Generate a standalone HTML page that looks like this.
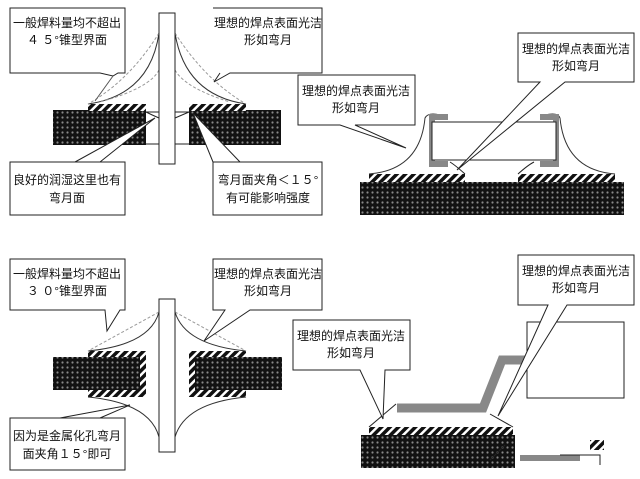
<!DOCTYPE html>
<html><head><meta charset="utf-8"><style>
html,body{margin:0;padding:0;background:#fff;}
svg{display:block}
text{font-family:"Liberation Sans","Noto Sans CJK SC",sans-serif;font-size:12px;fill:#111;text-anchor:middle}
</style></head><body>
<svg width="640" height="479" viewBox="0 0 640 479" xmlns="http://www.w3.org/2000/svg">
<defs>
<pattern id="x" width="5" height="5" patternUnits="userSpaceOnUse">
<rect width="5" height="5" fill="#111"/><circle cx="2.5" cy="2.5" r="1.1" fill="#888"/>
</pattern>
<pattern id="h" width="6" height="6" patternUnits="userSpaceOnUse" patternTransform="rotate(45)">
<rect width="6" height="6" fill="#fff"/><rect width="3.5" height="6" fill="#111"/>
</pattern>
</defs>
<g stroke="#222" stroke-width="1" fill="none">
<!-- TOP LEFT -->
<rect x="53" y="110" width="93" height="35" fill="url(#x)" stroke="none"/>
<rect x="189" y="110" width="92" height="35" fill="url(#x)" stroke="none"/>
<rect x="88" y="104" width="58" height="7" fill="url(#h)" stroke="none"/>
<rect x="189" y="104" width="57" height="7" fill="url(#h)" stroke="none"/>
<line x1="146" y1="112" x2="189" y2="112"/><line x1="146" y1="144" x2="189" y2="144"/>
<path d="M159 33 Q150 95 88 104" stroke="#333"/>
<path d="M159 33 Q130 80 88 104" stroke="#999" stroke-dasharray="3,2"/>
<path d="M175 33 Q185 95 246 104" stroke="#333"/>
<path d="M175 33 Q205 80 246 104" stroke="#999" stroke-dasharray="3,2"/>
<path d="M159 70 Q150 88 100 102" stroke="#999" stroke-dasharray="3,2"/>
<path d="M175 70 Q185 88 230 102" stroke="#999" stroke-dasharray="3,2"/>
<path d="M146 112 Q152 115 159 118"/><path d="M189 112 Q182 115 175 118"/>
<rect x="159" y="13" width="16" height="151" fill="#fff"/>
<path d="M10 8H125V73H118L113 76L100 73H10Z" fill="#fff"/>
<path d="M113 76L95 101" stroke="#555"/>
<path d="M213 8H322V73H230L214 82L220 73" fill="#fff"/>
<path d="M10 162H125V215H10Z M75 162L155 118L100 162" fill="#fff"/>
<path d="M213 162H322V215H213Z M213 162L193 113L240 162" fill="#fff"/>
<!-- TOP RIGHT -->
<rect x="360" y="182" width="264" height="33" fill="url(#x)" stroke="none"/>
<rect x="369" y="174" width="96" height="8" fill="url(#h)" stroke="none"/>
<rect x="518" y="174" width="97" height="8" fill="url(#h)" stroke="none"/>
<path d="M369 174 Q420 170 425 118 Q428 112 440 115" stroke="#333"/>
<path d="M615 174 Q565 170 560 118 Q558 112 545 115" stroke="#333"/>
<path d="M465 174 Q455 165 450 162"/><path d="M518 174 Q528 165 534 162"/>
<path d="M448 117H432V164H448" stroke="#888" stroke-width="6"/>
<path d="M540 117H556V164H540" stroke="#888" stroke-width="6"/>
<rect x="432" y="122" width="124" height="38" fill="#fff" stroke="#222"/>
<path d="M298 75H415V125H355L406 148L340 125H298Z" fill="#fff"/>
<path d="M518 33H634V82H565L457 170L540 82H518Z" fill="#fff"/>
<!-- BOTTOM LEFT -->
<rect x="88" y="351" width="58" height="46" fill="url(#h)" stroke="none"/>
<rect x="53" y="357" width="87" height="33" fill="url(#x)" stroke="none"/>
<rect x="189" y="351" width="57" height="46" fill="url(#h)" stroke="none"/>
<rect x="195" y="357" width="87" height="33" fill="url(#x)" stroke="none"/>
<path d="M159 312 Q150 345 88 351" stroke="#333"/>
<path d="M175 312 Q185 345 246 351" stroke="#333"/>
<path d="M159 312 L88 351" stroke="#999" stroke-dasharray="3,2"/>
<path d="M175 312 L246 351" stroke="#999" stroke-dasharray="3,2"/>
<path d="M159 437 Q150 403 88 397" stroke="#333"/>
<path d="M175 437 Q185 403 246 397" stroke="#333"/>
<rect x="159" y="299" width="16" height="153" fill="#fff"/>
<path d="M10 259H125V310H120L107 331L105 310H10Z" fill="#fff"/>
<path d="M213 259H322V310H250L204 341L225 310H213Z" fill="#fff"/>
<path d="M10 418H125V470H10Z M60 418L130 405L100 418" fill="#fff"/>
<!-- BOTTOM RIGHT -->
<rect x="361" y="435" width="154" height="33" fill="url(#x)" stroke="none"/>
<rect x="369" y="427" width="144" height="8" fill="url(#h)" stroke="none"/>
<path d="M369 427L396 404" /><path d="M513 427L490 414"/>
<path d="M397 408H483L502 360H527" stroke="#888" stroke-width="9"/>
<rect x="527" y="322" width="97" height="76" fill="#fff"/>
<path d="M293 320H410V370H385L383 419L360 370H293Z" fill="#fff"/>
<path d="M518 255H634V305H567L498 416L548 305H518Z" fill="#fff"/>
<rect x="520" y="455" width="60" height="6" fill="#888" stroke="none"/>
<rect x="590" y="440" width="14" height="10" fill="url(#h)" stroke="none"/>
<path d="M490 460L505 445M560 455H600V465"/>
</g>
<text x="67" y="27">一般焊料量均不超出</text><text x="67" y="44">４ ５°锥型界面</text>
<text x="268" y="27">理想的焊点表面光洁</text><text x="268" y="44">形如弯月</text>
<text x="67" y="184">良好的润湿这里也有</text><text x="67" y="202">弯月面</text>
<text x="268" y="184">弯月面夹角＜１５°</text><text x="268" y="202">有可能影响强度</text>
<text x="356" y="95">理想的焊点表面光洁</text><text x="356" y="112">形如弯月</text>
<text x="576" y="53">理想的焊点表面光洁</text><text x="576" y="70">形如弯月</text>
<text x="67" y="278">一般焊料量均不超出</text><text x="67" y="295">３ ０°锥型界面</text>
<text x="268" y="278">理想的焊点表面光洁</text><text x="268" y="295">形如弯月</text>
<text x="67" y="440">因为是金属化孔弯月</text><text x="67" y="458">面夹角１５°即可</text>
<text x="351" y="340">理想的焊点表面光洁</text><text x="351" y="357">形如弯月</text>
<text x="576" y="275">理想的焊点表面光洁</text><text x="576" y="292">形如弯月</text>
</svg>
</body></html>
